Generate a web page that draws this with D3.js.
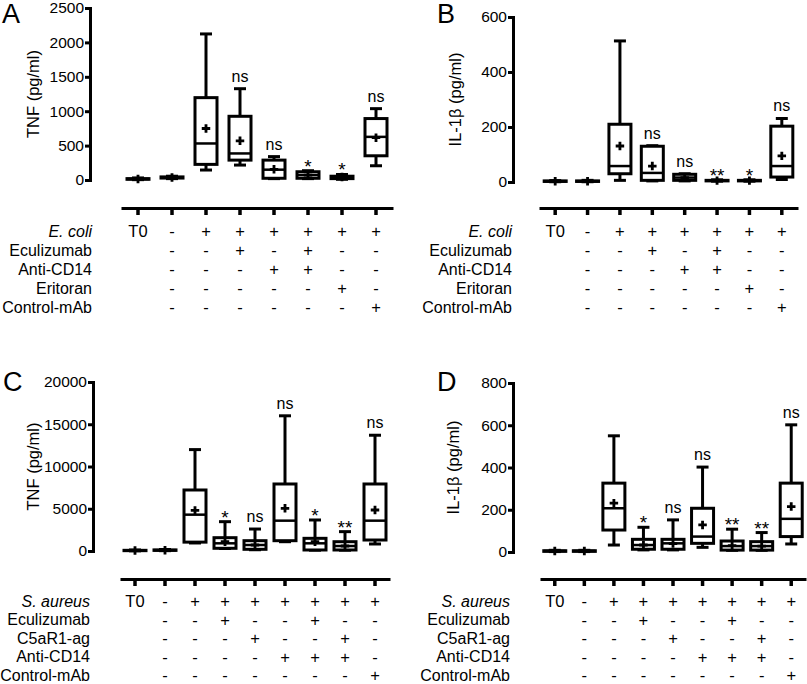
<!DOCTYPE html>
<html>
<head>
<meta charset="utf-8">
<script src="https://cdn.jsdelivr.net/npm/d3@7"></script>
<style>
  body { margin: 0; background: #fff; }
  svg { display: block; font-family: "Liberation Sans", Arial, sans-serif; }
</style>
</head>
<body>
<svg id="fig" width="807" height="684"></svg>
<script>
// box stats per group: [min, q1, median, q3, max, mean]
const tnfEcoli = [
  [5, 10, 15, 20, 30, 15],
  [20, 28, 35, 45, 55, 35],
  [145, 227, 531, 1197, 2123, 748],
  [217, 289, 386, 926, 1327, 569],
  [20, 25, 150, 289, 340, 155],
  [20, 25, 72, 120, 135, 72],
  [10, 20, 40, 55, 80, 45],
  [207, 352, 627, 893, 1037, 615]
];
const il1bEcoli = [
  [1, 2, 3, 4, 5, 3],
  [1, 2, 3, 4, 6, 3],
  [6, 30, 58, 210, 513, 131],
  [4, 6, 33, 130, 132, 58],
  [4, 6, 16, 28, 30, 16],
  [3, 4, 5, 6, 8, 5],
  [3, 4, 5, 6, 8, 5],
  [9, 18, 58, 203, 231, 95]
];
const tnfAureus = [
  [20, 40, 60, 80, 120, 60],
  [40, 70, 100, 130, 180, 100],
  [950, 1050, 4300, 7220, 12000, 4800],
  [300, 320, 910, 1575, 3470, 1100],
  [150, 200, 710, 1220, 2600, 710],
  [1100, 1220, 3590, 7930, 16000, 5050],
  [100, 120, 910, 1500, 3670, 1100],
  [100, 120, 590, 1100, 2290, 590],
  [830, 1300, 3590, 7930, 13700, 4850]
];
const il1bAureus = [
  [2, 3, 5, 6, 8, 5],
  [2, 3, 5, 6, 8, 5],
  [33, 104, 207, 326, 550, 231],
  [10, 13, 33, 60, 117, 33],
  [10, 13, 41, 60, 152, 40],
  [22, 41, 73, 207, 402, 128],
  [8, 9, 28, 52, 108, 30],
  [8, 9, 28, 49, 92, 28],
  [38, 73, 157, 326, 602, 215]
];

const sigA = ["", "", "", "ns", "ns", "*", "*", "ns"];
const sigB = ["", "", "", "ns", "ns", "**", "*", "ns"];
const sigC = ["", "", "", "*", "ns", "ns", "*", "**", "ns"];
const sigD = ["", "", "", "*", "ns", "ns", "**", "**", "ns"];

const ecoliRows = ["E. coli", "Eculizumab", "Anti-CD14", "Eritoran", "Control-mAb"];
const ecoliSigns = [
  ["T0", "-", "+", "+", "+", "+", "+", "+"],
  ["", "-", "-", "+", "-", "+", "-", "-"],
  ["", "-", "-", "-", "+", "+", "-", "-"],
  ["", "-", "-", "-", "-", "-", "+", "-"],
  ["", "-", "-", "-", "-", "-", "-", "+"]
];
const aureusRows = ["S. aureus", "Eculizumab", "C5aR1-ag", "Anti-CD14", "Control-mAb"];
const aureusSigns = [
  ["T0", "-", "+", "+", "+", "+", "+", "+", "+"],
  ["", "-", "-", "+", "-", "-", "+", "-", "-"],
  ["", "-", "-", "-", "+", "-", "-", "+", "-"],
  ["", "-", "-", "-", "-", "+", "+", "+", "-"],
  ["", "-", "-", "-", "-", "-", "-", "-", "+"]
];

const ticksTnfEcoli = [0, 500, 1000, 1500, 2000, 2500];
const ticksIl1bEcoli = [0, 200, 400, 600];
const ticksTnfAureus = [0, 5000, 10000, 15000, 20000];
const ticksIl1bAureus = [0, 200, 400, 600, 800];

const svg = d3.select("#fig");

function panel(cfg) {
  const g = svg.append("g");
  const n = cfg.stats.length;

  const y = d3.scaleLinear()
    .domain([0, d3.max(cfg.ticks)])
    .range([cfg.y0, cfg.y1]);
  const x = d3.scaleBand()
    .domain(d3.range(n))
    .range([cfg.xl, cfg.xr]);
  const cx = (i) => x(i) + x.bandwidth() / 2;

  // y axis
  const ya = g.append("g")
    .attr("transform", `translate(${cfg.ax},0)`)
    .call(d3.axisLeft(y).tickValues(cfg.ticks).tickFormat(d3.format("d"))
      .tickSize(5).tickSizeOuter(0).tickPadding(1));
  ya.select(".domain").attr("stroke-width", 3).attr("stroke-linecap", "square");
  ya.selectAll(".tick line").attr("stroke-width", 3);
  ya.selectAll(".tick text").attr("font-size", 15.5).attr("fill", "#000");
  ya.attr("font-family", null);

  // x axis (bottom, detached)
  const xa = g.append("g")
    .attr("transform", `translate(0,${cfg.xaY})`)
    .call(d3.axisBottom(x).tickSize(7).tickSizeOuter(0).tickFormat(""));
  xa.select(".domain").attr("stroke-width", 3);
  xa.selectAll(".tick line").attr("stroke-width", 3.5);

  // boxes
  const bw = 22, cap = 12;
  const box = g.selectAll(".box").data(cfg.stats).join("g")
    .attr("class", "box")
    .attr("transform", (d, i) => `translate(${cx(i)},0)`);

  box.append("line")
    .attr("y1", (d) => y(d[0])).attr("y2", (d) => y(d[4]))
    .attr("stroke", "#000").attr("stroke-width", 3);
  box.append("line")
    .attr("x1", -cap / 2).attr("x2", cap / 2)
    .attr("y1", (d) => y(d[4])).attr("y2", (d) => y(d[4]))
    .attr("stroke", "#000").attr("stroke-width", 3);
  box.append("line")
    .attr("x1", -cap / 2).attr("x2", cap / 2)
    .attr("y1", (d) => y(d[0])).attr("y2", (d) => y(d[0]))
    .attr("stroke", "#000").attr("stroke-width", 3);
  box.append("rect")
    .attr("x", -bw / 2).attr("width", bw)
    .attr("y", (d) => y(d[3]))
    .attr("height", (d) => Math.max(0, y(d[1]) - y(d[3])))
    .attr("fill", "#fff").attr("stroke", "#000").attr("stroke-width", 3);
  box.append("line")
    .attr("x1", -bw / 2).attr("x2", bw / 2)
    .attr("y1", (d) => y(d[2])).attr("y2", (d) => y(d[2]))
    .attr("stroke", "#000").attr("stroke-width", 2.5);
  box.append("path")
    .attr("d", d3.symbol(d3.symbolCross, 40))
    .attr("transform", (d) => `translate(0,${y(d[5])})`)
    .attr("fill", "#000");

  // significance marks
  box.append("text")
    .text((d, i) => cfg.sig[i])
    .attr("text-anchor", "middle")
    .attr("y", (d, i) => y(d[4]) + (cfg.sig[i] === "ns" ? -7 : 2))
    .attr("font-size", (d, i) => (cfg.sig[i] === "ns" ? 16 : 19));

  // treatment table
  cfg.rows.forEach((r, k) => {
    const ry = cfg.rowY + k * cfg.rowStep;
    g.append("text")
      .attr("x", cfg.labelX).attr("y", ry)
      .attr("text-anchor", "end").attr("dominant-baseline", "central")
      .attr("font-size", 16)
      .attr("font-style", k === 0 ? "italic" : null)
      .text(r);
    g.selectAll(null).data(cfg.signs[k]).join("text")
      .attr("x", (d, i) => cx(i)).attr("y", ry)
      .attr("text-anchor", "middle").attr("dominant-baseline", "central")
      .attr("font-size", 16.5)
      .text((d) => d);
  });

  // axis title
  g.append("text")
    .attr("transform", `translate(${cfg.titleX},${(cfg.y0 + cfg.y1) / 2}) rotate(-90)`)
    .attr("text-anchor", "middle").attr("dominant-baseline", "central")
    .attr("font-size", 16.5)
    .text(cfg.title);

  // panel letter
  g.append("text")
    .attr("x", cfg.letterX).attr("y", cfg.letterY)
    .attr("font-size", 27)
    .text(cfg.letter);
}

panel({
  stats: tnfEcoli, sig: sigA, ticks: ticksTnfEcoli,
  y0: 180, y1: 8, ax: 90, xl: 121, xr: 393, xaY: 208,
  rows: ecoliRows, signs: ecoliSigns, rowY: 231, rowStep: 19, labelX: 92,
  title: "TNF (pg/ml)", titleX: 33, letter: "A", letterX: 2, letterY: 23
});
panel({
  stats: il1bEcoli, sig: sigB, ticks: ticksIl1bEcoli,
  y0: 182, y1: 17, ax: 513, xl: 539, xr: 798, xaY: 208,
  rows: ecoliRows, signs: ecoliSigns, rowY: 231, rowStep: 19, labelX: 512,
  title: "IL-1\u03b2 (pg/ml)", titleX: 455, letter: "B", letterX: 437, letterY: 23
});
panel({
  stats: tnfAureus, sig: sigC, ticks: ticksTnfAureus,
  y0: 551, y1: 382, ax: 93, xl: 120, xr: 390, xaY: 579,
  rows: aureusRows, signs: aureusSigns, rowY: 601, rowStep: 18.5, labelX: 90,
  title: "TNF (pg/ml)", titleX: 33, letter: "C", letterX: 3, letterY: 391
});
panel({
  stats: il1bAureus, sig: sigD, ticks: ticksIl1bAureus,
  y0: 552, y1: 383, ax: 513, xl: 540, xr: 806, xaY: 579,
  rows: aureusRows, signs: aureusSigns, rowY: 601, rowStep: 18.5, labelX: 510,
  title: "IL-1\u03b2 (pg/ml)", titleX: 453, letter: "D", letterX: 437, letterY: 391
});
</script>
</body>
</html>
